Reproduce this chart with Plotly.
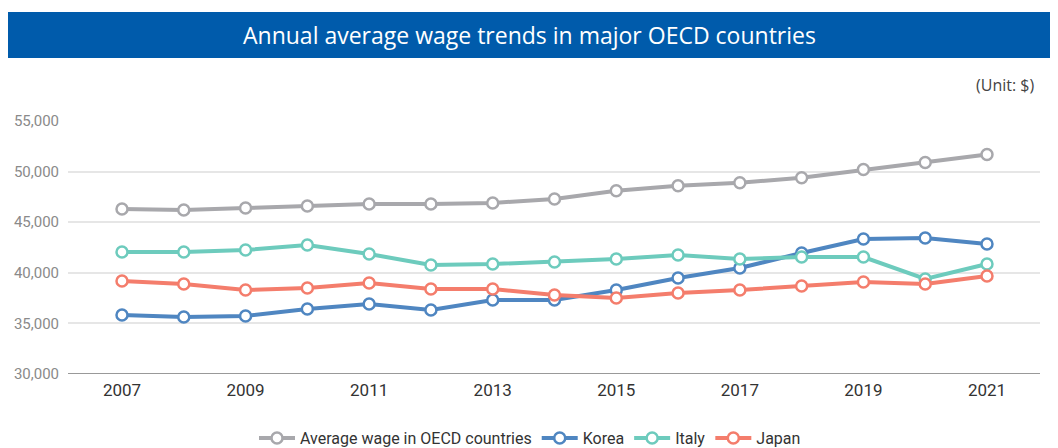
import plotly.graph_objects as go

years = list(range(2007, 2022))
oecd = [46300, 46200, 46400, 46600, 46800, 46800, 46900, 47300, 48100, 48600, 48900, 49400, 50200, 50900, 51700]
korea = [35830, 35630, 35730, 36420, 36920, 36320, 37310, 37310, 38300, 39490, 40470, 41960, 43340, 43440, 42850]
italy = [42060, 42060, 42250, 42750, 41860, 40770, 40870, 41070, 41360, 41760, 41360, 41560, 41560, 39390, 40870]
japan = [39190, 38900, 38300, 38500, 38990, 38400, 38400, 37810, 37510, 38000, 38300, 38700, 39090, 38900, 39680]

series = [
    ("Average wage in OECD countries", oecd, "#a8a8ac"),
    ("Korea", korea, "#4f86c1"),
    ("Italy", italy, "#6dcbbd"),
    ("Japan", japan, "#f47d6c"),
]

fig = go.Figure()
for name, vals, col in series:
    fig.add_trace(go.Scatter(
        x=years, y=vals, name=name, mode="lines+markers",
        line=dict(color=col, width=4),
        marker=dict(symbol="circle", size=11, color="white", line=dict(color=col, width=2.5)),
    ))

OFF = 8  # browser body margin
W, H = 1058 - OFF, 448 - OFF
# plot area in reference pixels: x 68..1040, y 121..374
L, T = 68 - OFF, 121 - OFF
R = W - (1040 - OFF)
B = H - (374 - OFF)
pw = W - L - R
ph = H - T - B

def px(x):
    return (x - OFF - L) / pw

def py(y):
    return (H - B - (y - OFF)) / ph

fig.add_shape(type="rect", xref="paper", yref="paper",
              x0=px(4), x1=px(1054), y0=py(58), y1=py(12),
              fillcolor="#005bab", line=dict(width=0), layer="below")
fig.add_annotation(xref="paper", yref="paper", x=px(529), y=py(35),
                   text="Annual average wage trends in major OECD countries",
                   showarrow=False, font=dict(family="Open Sans", size=23, color="white"),
                   xanchor="center", yanchor="middle")
fig.add_annotation(xref="paper", yref="paper", x=px(1036), y=py(85),
                   text="(Unit: $)", showarrow=False,
                   font=dict(family="Open Sans", size=16, color="#444444"),
                   xanchor="right", yanchor="middle")

fig.update_layout(
    width=W, height=H,
    margin=dict(l=L, r=R, t=T, b=B, autoexpand=False),
    paper_bgcolor="white", plot_bgcolor="white",
    font=dict(family="Roboto", color="#333333"),
    legend=dict(orientation="h", x=px(530), xanchor="center", y=py(438), yanchor="middle",
                font=dict(size=16, color="#333333"), itemwidth=36),
    xaxis=dict(range=[2006.126, 2021.858], tickvals=list(range(2007, 2022, 2)),
               showgrid=False, zeroline=False, showline=False,
               tickfont=dict(size=17, color="#333333"), ticks="", ticklabelstandoff=4),
    yaxis=dict(range=[30000, 55000], tickvals=[30000, 35000, 40000, 45000, 50000, 55000],
               tickformat=",", showgrid=True, gridcolor="#e6e6e6", gridwidth=1.5,
               zeroline=False, showline=False,
               tickfont=dict(size=15, color="#8a8a8a"), ticks="", ticklabelstandoff=8),
)
fig.add_shape(type="line", xref="paper", yref="y", x0=0, x1=1, y0=30000, y1=30000,
              line=dict(color="#777777", width=1.5))

fig.write_html("out.html")
